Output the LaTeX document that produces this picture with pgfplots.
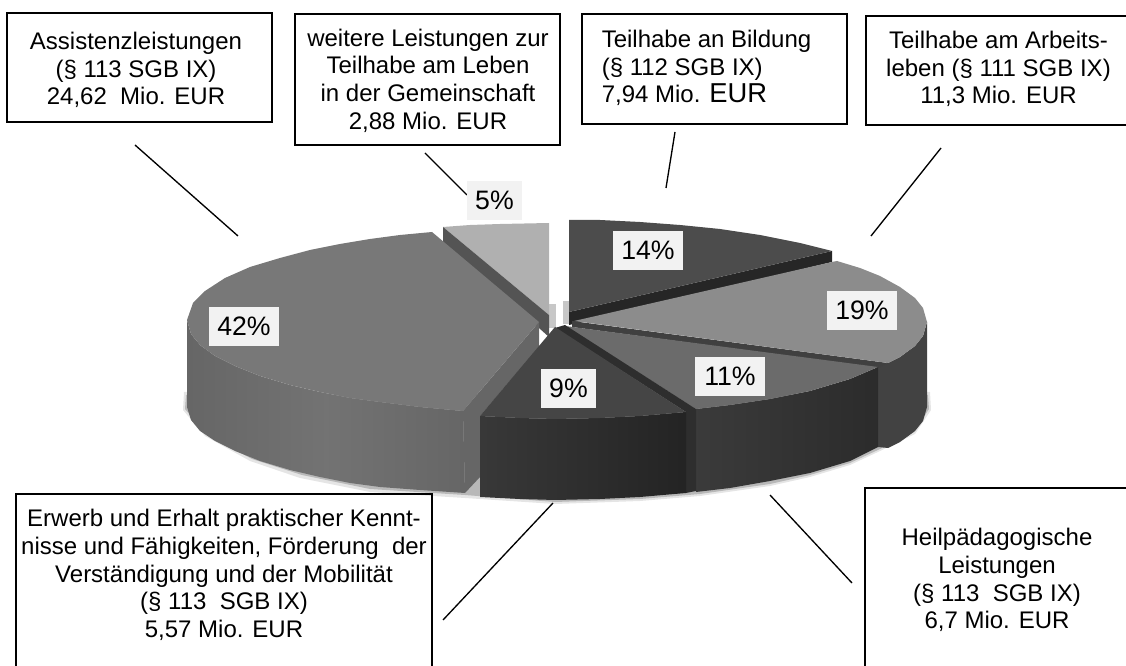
\documentclass[border=0pt]{standalone}
\usepackage{fontspec}
\setmainfont{Liberation Sans}
\usepackage{pgfplots}
\pgfplotsset{compat=1.18}
\definecolor{lab}{HTML}{F2F2F2}
\begin{document}
\begin{tikzpicture}
\begin{axis}[
  scale only axis, width=844.5pt, height=499.5pt,
  xmin=0, xmax=1126, ymin=0, ymax=666, y dir=reverse,
  hide axis, clip=true,
]
\path (rel axis cs:0,0) rectangle (rel axis cs:1,1);
% soft shadow under the pie
\addplot[draw=none, fill=black!10] coordinates {(184,392)(183,410)(205,436)(250,461)(300,478)(370,492)(465,498)(555,504)(640,501)(700,496)(770,486)(810,477)(850,465)(880,451)(915,434)(931,410)(930,392)} -- cycle;
\addplot[draw=none, fill=black!28] coordinates {(186,395)(185,409)(207,435)(252,459)(302,475)(370,489)(465,495)(555,502)(640,499)(700,494)(770,484)(810,475)(850,463)(880,449)(914,432)(929,409)(928,395)} -- cycle;
% 5 %
\addplot[draw=none, fill=black!22] coordinates {(549,304)(556,304)(556,328)(549,328)} -- cycle;
\addplot[draw=none, fill=black!22] coordinates {(563,301)(569,301)(569,324)(563,324)} -- cycle;
\addplot[draw=none, fill=black!31] coordinates {(443,227)(470,225)(500,224)(549,223)(549,315)} -- cycle;
\addplot[draw=none, fill=black!67] coordinates {(443,227)(443,242)(549,337)(549,315)} -- cycle;
% 42 %
\addplot[draw=none, fill=black!60] coordinates {(539,322)(539,347)(480,416)(480,477)(465,493)(463,411)} -- cycle;
\addplot[draw=none, left color=black!60, right color=black!60, middle color=black!55] coordinates {(187,320)(191,334)(200,345)(215,356)(235,366)(260,376)(290,385)(320,392)(350,398)(380,402)(420,407)(463,411)(465,493)(420,490)(380,487)(350,483)(320,477)(290,470)(260,461)(235,451)(215,441)(200,431)(191,420)(187,407)} -- cycle;
\addplot[draw=none, fill=black!53] coordinates {(539,322)(432,232)(400,235)(370,239)(340,244)(310,250)(280,258)(250,267)(225,278)(205,291)(193,303)(187,320)(191,334)(200,345)(215,356)(235,366)(260,376)(290,385)(320,392)(350,398)(380,402)(420,407)(463,411)} -- cycle;
% 14 %
\addplot[draw=none, fill=black!85] coordinates {(569,312)(832,251)(832,262)(569,325)} -- cycle;
\addplot[draw=none, fill=black!70] coordinates {(569,312)(569,220)(600,220)(640,222)(680,225)(720,229)(760,235)(800,243)(832,251)} -- cycle;
% 19 %
\addplot[draw=none, fill=black!74] coordinates {(927,322)(923,336)(915,346)(900,357)(888,363)(878,366)(878,447)(888,448)(900,442)(915,431)(923,421)(927,407)} -- cycle;
\addplot[draw=none, fill=black!75] coordinates {(572,321)(572,327)(878,368)(888,363)} -- cycle;
\addplot[draw=none, fill=black!45] coordinates {(574,321)(832,262)(837,261)(860,268)(880,276)(900,287)(915,298)(923,308)(927,322)(923,336)(915,346)(900,357)(888,363)} -- cycle;
% 11 %
\addplot[draw=none, left color=black!77, right color=black!83] coordinates {(696,409)(730,405)(770,399)(810,391)(850,379)(878,367)(878,447)(850,461)(810,473)(770,481)(730,488)(696,492)} -- cycle;
\addplot[draw=none, fill=black!58] coordinates {(565,326)(878,367)(850,379)(810,391)(770,399)(730,405)(696,409)} -- cycle;
\addplot[draw=none, fill=black!82] coordinates {(565,325)(696,409)(696,491)(686,493)(686,412)(555,328)} -- cycle;
% 9 %
\addplot[draw=none, left color=black!78, right color=black!86] coordinates {(480,416)(520,418)(555,419)(600,418)(640,416)(686,412)(686,493)(640,497)(600,499)(555,500)(520,499)(480,497)} -- cycle;
\addplot[draw=none, fill=black!73] coordinates {(555,327)(686,412)(640,416)(600,418)(555,419)(520,418)(480,416)} -- cycle;
% connector lines
\addplot[black, line width=1pt] coordinates {(135,145)(238,236)};
\addplot[black, line width=1pt] coordinates {(425,153)(467,195)};
\addplot[black, line width=1pt] coordinates {(675,132)(666,188)};
\addplot[black, line width=1pt] coordinates {(941,148)(871,236)};
\addplot[black, line width=1pt] coordinates {(553,503)(443,620)};
\addplot[black, line width=1pt] coordinates {(770,495)(852,583)};
% callout boxes
\addplot[black, line width=1pt, fill=white] coordinates {(7,13)(272,13)(272,122)(7,122)} -- cycle;
\addplot[black, line width=1pt, fill=white] coordinates {(295,14)(560,14)(560,145)(295,145)} -- cycle;
\addplot[black, line width=1pt, fill=white] coordinates {(582,14)(847,14)(847,124)(582,124)} -- cycle;
\addplot[black, line width=1pt] coordinates {(1126,16)(866,16)(866,125)(1126,125)};
\addplot[black, line width=1pt] coordinates {(16,666)(16,494)(432,494)(432,666)};
\addplot[black, line width=1pt] coordinates {(865,666)(865,488)(1126,488)};
% percent labels
\tikzset{pct/.style={fill=lab, inner sep=0pt, minimum width=52.5pt, minimum height=29.2pt, font=\fontsize{20}{23}\selectfont},
  txt/.style={align=center, inner sep=0pt, font=\fontsize{18}{20.8}\selectfont}}
\node[pct] at (axis cs:244,326.5) {42\%};
\node[pct, minimum width=41.2pt] at (axis cs:494.5,200.5) {5\%};
\node[pct, minimum width=41.2pt] at (axis cs:568.5,388.5) {9\%};
\node[pct] at (axis cs:648,250.5) {14\%};
\node[pct] at (axis cs:862,310.5) {19\%};
\node[pct] at (axis cs:730,376.5) {11\%};
% callout text
\node[txt] at (axis cs:136,70) {Assistenzleistungen\\(§ 113 SGB IX)\\24,62\ \ Mio. EUR};
\node[txt] at (axis cs:428,80.5) {weitere Leistungen zur\\Teilhabe am Leben\\in der Gemeinschaft\\2,88 Mio. EUR};
\node[txt, align=left, anchor=west] at (axis cs:601.5,68) {Teilhabe an Bildung\\(§ 112 SGB IX)\\7,94 Mio. {\fontsize{20.5}{20.8}\selectfont EUR}};
\node[txt] at (axis cs:998.5,69) {Teilhabe am Arbeits-\\leben (§ 111 SGB IX)\\11,3 Mio. EUR};
\node[txt] at (axis cs:224,575) {Erwerb und Erhalt praktischer Kennt-\\nisse und Fähigkeiten, Förderung\ \ der\\Verständigung und der Mobilität\\(§ 113\ \ SGB IX)\\5,57 Mio. EUR};
\node[txt] at (axis cs:997,580) {Heilpädagogische\\Leistungen\\(§ 113\ \ SGB IX)\\6,7 Mio. EUR};
\end{axis}
\end{tikzpicture}
\end{document}
